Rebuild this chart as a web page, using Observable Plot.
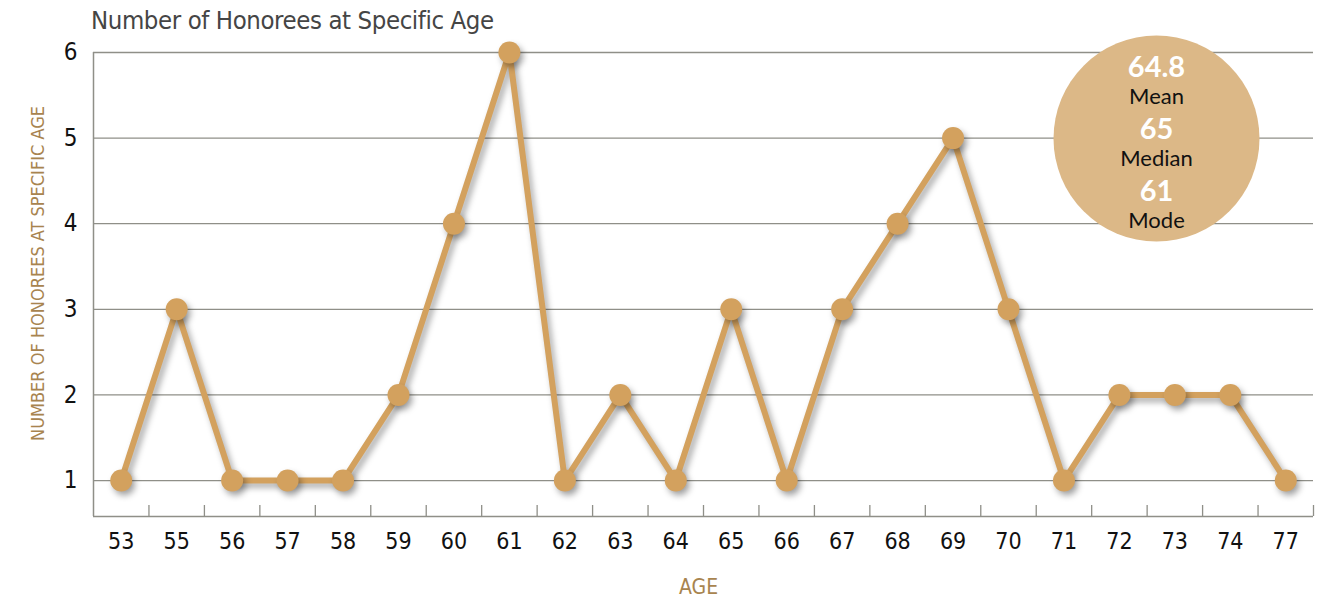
<!DOCTYPE html>
<html>
<head>
<meta charset="utf-8">
<script src="https://cdn.jsdelivr.net/npm/d3@7"></script>
<script src="https://cdn.jsdelivr.net/npm/@observablehq/plot@0.6"></script>
<style>
  html, body { margin: 0; padding: 0; background: #fff; }
  #wrap { position: relative; width: 1328px; height: 606px; }
  #title { position: absolute; left: 91px; top: 5px; font-family: "DejaVu Sans Condensed", "Liberation Sans Narrow", sans-serif; font-size: 25.5px; color: #454545; letter-spacing: -0.4px; z-index: 2; }
</style>
</head>
<body>
<div id="wrap"><div id="title">Number of Honorees at Specific Age</div></div>
<script>
const ages = ["53","55","56","57","58","59","60","61","62","63","64","65","66","67","68","69","70","71","72","73","74","77"];
const counts = [1,3,1,1,1,2,4,6,1,2,1,3,1,3,4,5,3,1,2,2,2,1];
const yTicks = [1,2,3,4,5,6];
const statValues = ["64.8","65","61"];
const statLabels = ["Mean","Median","Mode"];
const yLabel = "NUMBER OF HONOREES AT SPECIFIC AGE";
const xLabel = "AGE";

const data = ages.map((a, i) => ({age: a, count: counts[i]}));

const W = 1328, H = 606, mL = 93, mR = 15, mT = 52, mB = 90;
const bw = (W - mL - mR) / ages.length;
const plotH = H - mT - mB;
const gold = "#d3a15e";
const labelGold = "#a8844f";
const cond = "DejaVu Sans Condensed, Liberation Sans Narrow, sans-serif";
const sans = "Lato, Open Sans, sans-serif";
const yMin = 0.58;
const circleDx = -157;
const grid = "#8f8f88";

const statMarks = [];
statValues.forEach((v, i) => {
  statMarks.push(Plot.text([v], {frameAnchor: "top-right", textAnchor: "middle", lineAnchor: "middle", dx: circleDx, dy: 15 + i * 62, text: d => d, fill: "#fff", fontSize: 29, fontWeight: "bold", fontFamily: sans}));
});
statLabels.forEach((v, i) => {
  statMarks.push(Plot.text([v], {frameAnchor: "top-right", textAnchor: "middle", lineAnchor: "middle", dx: circleDx, dy: 44 + i * 62, text: d => d, fill: "#111", fontSize: 22, fontFamily: sans}));
});

const chart = Plot.plot({
  width: W, height: H,
  marginLeft: mL, marginRight: mR, marginTop: mT, marginBottom: mB,
  style: {fontFamily: cond, background: "#fff", color: "#111", overflow: "visible"},
  x: {type: "band", domain: ages, padding: 0, round: false, label: null, tickSize: 0, tickPadding: 16},
  y: {domain: [yMin, 6], ticks: yTicks, tickFormat: "d", tickSize: 0, tickPadding: 16, label: null},
  marks: [
    Plot.ruleY(yTicks, {y: d => d, stroke: grid, strokeWidth: 1.3}),
    Plot.ruleY([yMin], {stroke: grid, strokeWidth: 1.5}),
    Plot.ruleX([ages[0]], {x: d => d, dx: -bw / 2, stroke: grid, strokeWidth: 1.5}),
    Plot.ruleX(ages, {x: d => d, dx: bw / 2, insetTop: plotH - 11, stroke: grid, strokeWidth: 1.3}),
    Plot.line(data, {x: "age", y: "count", stroke: gold, strokeWidth: 6}),
    Plot.dot(data, {x: "age", y: "count", r: 11, fill: gold, stroke: "none"}),
    Plot.dot([0], {frameAnchor: "top-right", dx: circleDx, dy: 86, r: 103, fill: "#dcb887", stroke: "none"}),
    ...statMarks,
    Plot.text([yLabel], {frameAnchor: "left", textAnchor: "middle", dx: -55, dy: -11, rotate: -90, text: d => d, fill: labelGold, fontSize: 18, fontFamily: cond}),
    Plot.text([xLabel], {frameAnchor: "bottom", dx: -5, dy: 77, text: d => d, fill: labelGold, fontSize: 21, fontFamily: cond})
  ]
});

chart.querySelectorAll('g[aria-label="y-axis tick label"]').forEach(el => { el.setAttribute("font-size", "24"); el.style.fontSize = "24px"; });
chart.querySelectorAll('g[aria-label="x-axis tick label"]').forEach(el => { el.setAttribute("font-size", "23"); el.style.fontSize = "23px"; });
const lineG = chart.querySelector('g[aria-label="line"]');
const dotGs = chart.querySelectorAll('g[aria-label="dot"]');
const shadow = "drop-shadow(3px 4px 3px rgba(0,0,0,0.35))";
if (lineG) lineG.style.filter = shadow;
if (dotGs[0]) dotGs[0].style.filter = shadow;
chart.style.position = "absolute"; chart.style.left = "0"; chart.style.top = "0";
document.getElementById("wrap").prepend(chart);
</script>
</body>
</html>
